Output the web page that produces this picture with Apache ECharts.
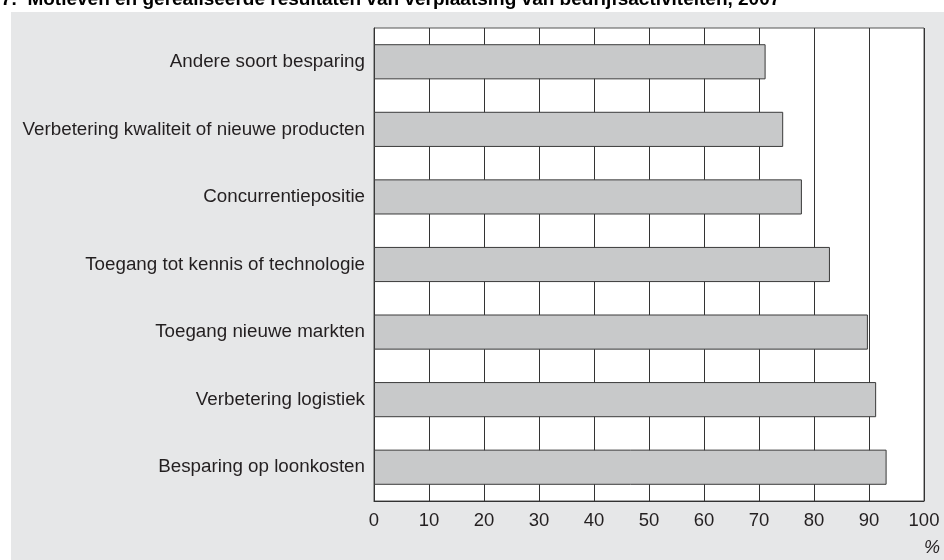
<!DOCTYPE html>
<html>
<head>
<meta charset="utf-8">
<script src="https://cdn.jsdelivr.net/npm/echarts@6/dist/echarts.min.js"></script>
<style>
html,body{margin:0;padding:0;background:#ffffff;}
#chart{width:944px;height:560px;}
</style>
</head>
<body>
<div id="chart"></div>
<script>
var titleText = '7.  Motieven en gerealiseerde resultaten van verplaatsing van bedrijfsactiviteiten, 2007';
var categories = [
  'Andere soort besparing',
  'Verbetering kwaliteit of nieuwe producten',
  'Concurrentiepositie',
  'Toegang tot kennis of technologie',
  'Toegang nieuwe markten',
  'Verbetering logistiek',
  'Besparing op loonkosten'
];
var values = [71.2, 74.4, 77.8, 82.9, 89.8, 91.3, 93.2];
var unitLabel = '%';

var FONT = '"Liberation Sans", Arial, Helvetica, sans-serif';
var TXT = '#231f20';
var chart = echarts.init(document.getElementById('chart'), null, {renderer: 'canvas'});
chart.setOption({
  backgroundColor: '#ffffff',
  animation: false,
  graphic: [
    {type: 'rect', z: -10, silent: true, shape: {x: 11, y: 12, width: 933, height: 548}, style: {fill: '#e6e7e8'}},
    {type: 'text', z: 10, left: 1, top: -10, style: {text: titleText, font: 'bold 19px ' + FONT, fill: '#000000'}},
    {type: 'text', z: 10, right: 4, top: 539, style: {text: unitLabel, font: 'italic 18px ' + FONT, fill: TXT}}
  ],
  grid: {left: 374, right: 20, top: 28, bottom: 59, show: true, backgroundColor: '#ffffff', borderColor: '#555555', borderWidth: 1},
  xAxis: {
    type: 'value', min: 0, max: 100, interval: 10,
    axisLine: {show: true, lineStyle: {color: '#333333', width: 1}},
    axisTick: {show: false},
    axisLabel: {color: TXT, fontSize: 18.5, fontFamily: FONT, margin: 10},
    splitLine: {show: true, lineStyle: {color: '#333333', width: 1}}
  },
  yAxis: {
    type: 'category', data: categories, inverse: true,
    axisLine: {show: true, lineStyle: {color: '#333333', width: 1}},
    axisTick: {show: false},
    axisLabel: {color: TXT, fontSize: 18.8, fontFamily: FONT, margin: 9},
    splitLine: {show: false}
  },
  series: [{
    type: 'bar', data: values, barWidth: '52%',
    itemStyle: {color: '#c8c9ca', borderColor: '#3a3a3a', borderWidth: 1}
  }]
});
</script>
</body>
</html>
